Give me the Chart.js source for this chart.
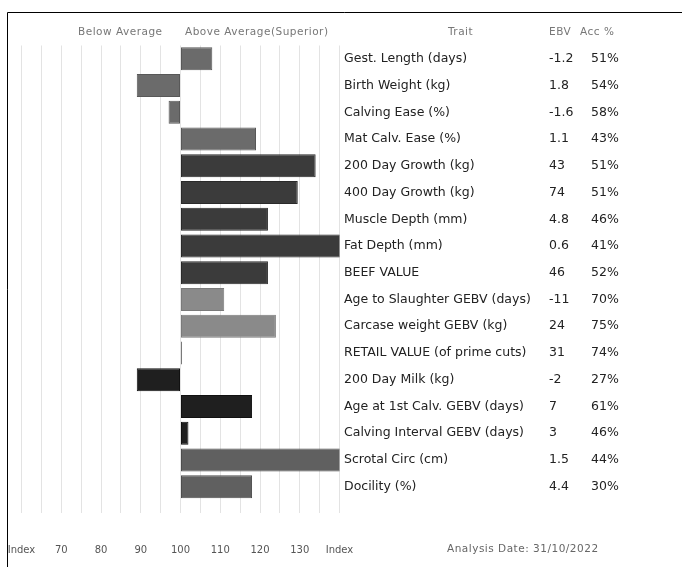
<!DOCTYPE html>
<html>
<head>
<meta charset="utf-8">
<script src="https://cdn.jsdelivr.net/npm/chart.js@4.4.0/dist/chart.umd.min.js"></script>
<style>
  html, body { margin: 0; padding: 0; background: #fff; }
  #wrap { position: relative; width: 682px; height: 567px; }
</style>
</head>
<body>
<div id="wrap"><canvas id="ebvChart"></canvas></div>
<script>
// trait rows, top to bottom
const traits = [
    "Gest. Length (days)", "Birth Weight (kg)", "Calving Ease (%)", "Mat Calv. Ease (%)",
    "200 Day Growth (kg)", "400 Day Growth (kg)", "Muscle Depth (mm)", "Fat Depth (mm)",
    "BEEF VALUE", "Age to Slaughter GEBV (days)", "Carcase weight GEBV (kg)",
    "RETAIL VALUE (of prime cuts)", "200 Day Milk (kg)", "Age at 1st Calv. GEBV (days)",
    "Calving Interval GEBV (days)", "Scrotal Circ (cm)", "Docility (%)"
];
const ebv = ["-1.2", "1.8", "-1.6", "1.1", "43", "74", "4.8", "0.6", "46", "-11", "24", "31", "-2", "7", "3", "1.5", "4.4"];
const accuracy = ["51%", "54%", "58%", "43%", "51%", "51%", "46%", "41%", "52%", "70%", "75%", "74%", "27%", "61%", "46%", "44%", "30%"];
// index values (100 = breed average)
const indexValues = [108, 89, 97, 119, 134, 129.5, 122, 141, 122, 111, 124, 100.4, 89, 118, 102, 141, 118];
const traitGroup = ["calving", "calving", "calving", "calving", "growth", "growth", "growth", "growth", "growth",
    "gebv", "gebv", "gebv", "maternal", "maternal", "maternal", "other", "other"];
const indexTicks = [60, 70, 80, 90, 100, 110, 120, 130, 140];
const analysisDate = "31/10/2022";

const groupColors = {
    calving: ["#6b6b6b", "#585858"],
    growth: ["#3b3b3b", "#2a2a2a"],
    gebv: ["#8a8a8a", "#7a7a7a"],
    maternal: ["#1f1f1f", "#111111"],
    other: ["#606060", "#4d4d4d"]
};

const uiFont = "'DejaVu Sans', sans-serif";
const tableFont = "'DejaVu Sans', sans-serif";

// draws frame, header, EBV/Acc columns and footer text
const tablePlugin = {
    id: "tableText",
    beforeDraw(chart) {
        const ctx = chart.ctx;
        ctx.save();
        ctx.strokeStyle = "#000";
        ctx.lineWidth = 1;
        ctx.beginPath();
        ctx.moveTo(7.5, 567);
        ctx.lineTo(7.5, 12.5);
        ctx.lineTo(682, 12.5);
        ctx.stroke();
        ctx.restore();
    },
    afterDraw(chart) {
        const ctx = chart.ctx;
        const yScale = chart.scales.y;
        ctx.save();
        ctx.textBaseline = "middle";
        ctx.textAlign = "left";

        ctx.fillStyle = "#777";
        ctx.font = "10.5px " + uiFont;
        ctx.letterSpacing = "0.5px";
        ctx.fillText("Below Average", 78, 32);
        ctx.fillText("Above Average(Superior)", 185, 32);
        ctx.fillText("Trait", 448, 32);
        ctx.fillText("EBV", 549, 32);
        ctx.fillText("Acc %", 580, 32);

        ctx.fillStyle = "#666";
        ctx.fillText("Analysis Date: " + analysisDate, 447, 549);

        ctx.letterSpacing = "0px";
        ctx.fillStyle = "#222";
        ctx.font = "12.5px " + tableFont;
        traits.forEach((t, i) => {
            const y = yScale.getPixelForValue(i);
            ctx.fillText(ebv[i], 549, y);
            ctx.fillText(accuracy[i], 591, y);
        });
        ctx.restore();
    }
};

new Chart(document.getElementById("ebvChart"), {
    type: "bar",
    data: {
        labels: traits,
        datasets: [{
            data: indexValues,
            base: 100,
            backgroundColor: traitGroup.map(g => groupColors[g][0]),
            borderColor: traitGroup.map(g => groupColors[g][1]),
            borderWidth: 1,
            borderSkipped: false,
            barPercentage: 0.86,
            categoryPercentage: 1
        }]
    },
    options: {
        indexAxis: "y",
        responsive: true,
        maintainAspectRatio: false,
        animation: false,
        layout: { padding: { left: 21.5, top: 45.5, right: 0, bottom: 0 } },
        plugins: {
            legend: { display: false },
            tooltip: { enabled: false }
        },
        scales: {
            x: {
                min: 60,
                max: 140,
                afterFit: (axis) => {
                    axis.height = 67;
                    axis.paddingLeft = 0;
                    axis.paddingRight = 0;
                },
                grid: {
                    color: "#e3e3e3",
                    lineWidth: 1,
                    drawTicks: true,
                    tickLength: 13,
                    tickColor: "#e3e3e3"
                },
                border: { display: false },
                ticks: {
                    stepSize: 5,
                    autoSkip: false,
                    maxRotation: 0,
                    padding: 31,
                    color: "#555",
                    font: { family: uiFont, size: 10 },
                    callback: (v) => {
                        if (!indexTicks.includes(v)) return "";
                        return (v === 60 || v === 140) ? "Index" : String(v);
                    }
                }
            },
            y: {
                position: "right",
                afterFit: (axis) => { axis.width = 342.5; },
                grid: { display: false, drawTicks: false },
                border: { display: false },
                ticks: {
                    crossAlign: "near",
                    padding: 4.5,
                    color: "#222",
                    font: { family: tableFont, size: 12.5 }
                }
            }
        }
    },
    plugins: [tablePlugin]
});
</script>
</body>
</html>
